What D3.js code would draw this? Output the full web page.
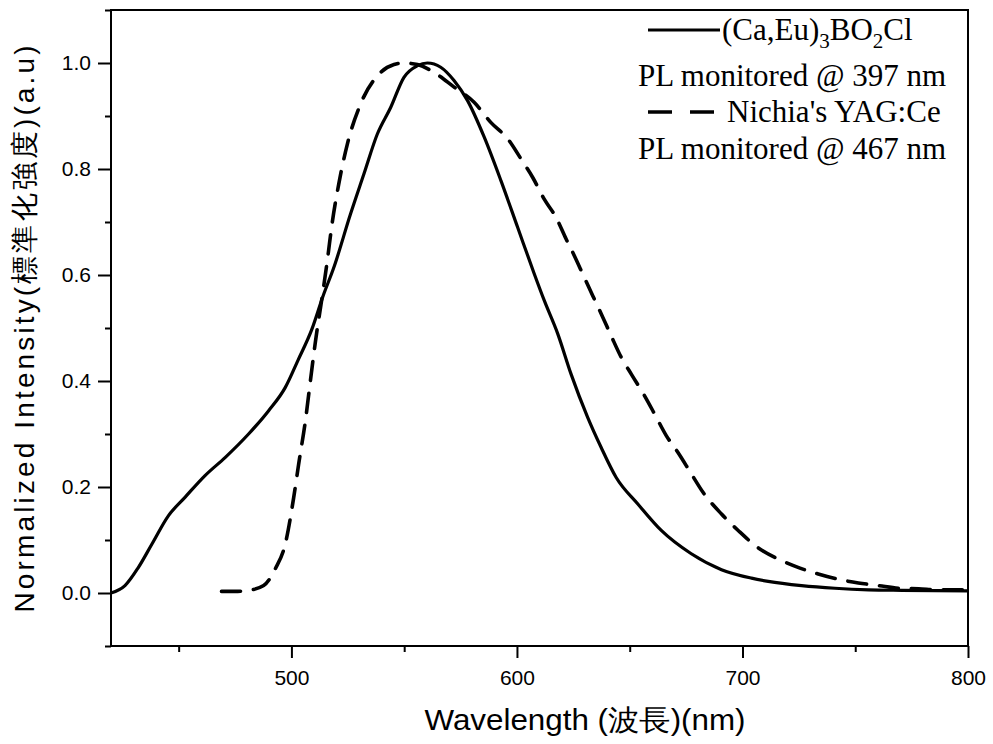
<!DOCTYPE html>
<html><head><meta charset="utf-8">
<script src="https://cdn.jsdelivr.net/npm/d3@7"></script>
<style>body{margin:0;background:#fff}</style>
</head><body>
<script>
// Data
const caEuWavelength = [420,426.2,432.1,438.1,445.5,452.9,461.8,470.7,481,489.9,497.3,503,509,514,518.8,526.2,532.1,538.1,544,549.9,555.9,560.3,566.2,572.1,578.1,585.5,592.9,600.3,607.7,612.1,618.1,624,631.4,637.3,644,653.6,664,677.3,690.7,704,711.4,726.2,741,755.9,770.7,800];
const caEuIntensity  = [0,0.014,0.048,0.092,0.146,0.181,0.222,0.256,0.300,0.344,0.388,0.44,0.497,0.56,0.614,0.715,0.79,0.866,0.916,0.973,0.995,1.0,0.992,0.967,0.929,0.86,0.778,0.69,0.602,0.552,0.489,0.413,0.331,0.275,0.218,0.168,0.118,0.074,0.044,0.028,0.022,0.014,0.009,0.006,0.005,0.004];
const yagWavelength = [469,475,481,487.7,492.9,497.3,501,503.2,506.2,508.4,510.7,513.6,515.9,518.1,521,524.8,530.7,538.8,545.5,550,555.9,563.3,572,581,588.4,595.9,601.8,607,612.1,617.3,621.8,625.5,629.9,633.6,638.1,641.8,646.2,650.7,656.6,661,666.2,671.4,677.3,682.5,690.7,698.1,707.7,715.9,725.5,733.6,742.5,751.4,760.3,769.2,778.1,787,800];
const yagIntensity  = [0.003,0.003,0.005,0.014,0.046,0.093,0.18,0.243,0.325,0.40,0.476,0.558,0.627,0.699,0.772,0.847,0.923,0.979,0.997,1.0,0.997,0.982,0.955,0.926,0.888,0.857,0.819,0.784,0.743,0.709,0.668,0.636,0.595,0.561,0.52,0.485,0.445,0.413,0.372,0.338,0.297,0.265,0.225,0.19,0.149,0.118,0.083,0.064,0.047,0.036,0.026,0.019,0.014,0.009,0.008,0.006,0.006];
const xMajorTicks = [500,600,700,800];
const xMinorTicks = [450,550,650,750];
const yMajorTicks = [0.0,0.2,0.4,0.6,0.8,1.0];
const yMinorTicks = [-0.1,0.1,0.3,0.5,0.7,0.9,1.1];
const xLabel = "Wavelength (波長)(nm)";
const yLabel = "Normalized Intensity(標準化強度)(a.u)";

const W = 993, H = 744;
const L = 111, R = 968, T = 10, B = 646;
const svg = d3.select("body").append("svg").attr("width", W).attr("height", H);
const x = d3.scaleLinear().domain([420, 800]).range([L, R]);
const y = d3.scaleLinear().domain([-0.1, 1.1]).range([B, T]);

// frame
svg.append("rect").attr("x", L).attr("y", T).attr("width", R - L).attr("height", B - T)
  .attr("fill", "none").attr("stroke", "#000").attr("stroke-width", 2);

// axes
const tickFont = "Liberation Sans, Arial, sans-serif";
const xAx = svg.append("g").attr("transform", `translate(0,${B})`)
  .call(d3.axisBottom(x).tickValues(xMajorTicks).tickSize(12).tickPadding(12).tickFormat(d3.format("d")));
const xMin = svg.append("g").attr("transform", `translate(0,${B})`)
  .call(d3.axisBottom(x).tickValues(xMinorTicks).tickSize(6).tickFormat(""));
const yAx = svg.append("g").attr("transform", `translate(${L},0)`)
  .call(d3.axisLeft(y).tickValues(yMajorTicks).tickSize(13).tickPadding(7).tickFormat(d3.format(".1f")));
const yMin = svg.append("g").attr("transform", `translate(${L},0)`)
  .call(d3.axisLeft(y).tickValues(yMinorTicks).tickSize(6).tickFormat(""));
[xAx, xMin, yAx, yMin].forEach(g => {
  g.select(".domain").remove();
  g.selectAll("line").attr("stroke", "#000").attr("stroke-width", 2);
  g.selectAll("text").attr("font-family", tickFont).attr("font-size", 21).attr("fill", "#000");
});

// curves
const line = d3.line().x(d => x(d[0])).y(d => y(d[1])).curve(d3.curveMonotoneX);
svg.append("path").datum(d3.zip(caEuWavelength, caEuIntensity)).attr("d", line)
  .attr("fill", "none").attr("stroke", "#000").attr("stroke-width", 3.2).attr("stroke-linejoin", "round");
svg.append("path").datum(d3.zip(yagWavelength, yagIntensity)).attr("d", line)
  .attr("fill", "none").attr("stroke", "#000").attr("stroke-width", 3.6)
  .attr("stroke-dasharray", "19 13").attr("stroke-linecap", "round");

// axis labels
svg.append("text").attr("x", 585).attr("y", 730).attr("text-anchor", "middle")
  .attr("font-family", tickFont).attr("font-size", 29)
  .attr("textLength", 321).attr("lengthAdjust", "spacingAndGlyphs").text(xLabel);
svg.append("text").attr("transform", "translate(34,329) rotate(-90)").attr("text-anchor", "middle")
  .attr("font-family", tickFont).attr("font-size", 28)
  .attr("textLength", 567).attr("lengthAdjust", "spacing").text(yLabel);

// legend
const serif = "Liberation Serif, Times New Roman, serif";
const lg = svg.append("g").attr("font-family", serif).attr("font-size", 31).attr("fill", "#000");
lg.append("line").attr("x1", 648).attr("x2", 720).attr("y1", 30).attr("y2", 30).attr("stroke", "#000").attr("stroke-width", 3);
const t1 = lg.append("text").attr("x", 722).attr("y", 40);
t1.append("tspan").text("(Ca,Eu)");
t1.append("tspan").attr("dy", 8).attr("font-size", 21).text("3");
t1.append("tspan").attr("dy", -8).text("BO");
t1.append("tspan").attr("dy", 8).attr("font-size", 21).text("2");
t1.append("tspan").attr("dy", -8).text("Cl");
lg.append("text").attr("x", 638).attr("y", 86).text("PL monitored @ 397 nm");
lg.append("line").attr("x1", 648).attr("x2", 714).attr("y1", 112).attr("y2", 112).attr("stroke", "#000").attr("stroke-width", 3.6)
  .attr("stroke-dasharray", "24 18");
lg.append("text").attr("x", 727).attr("y", 122).text("Nichia's YAG:Ce");
lg.append("text").attr("x", 638).attr("y", 159).text("PL monitored @ 467 nm");
</script>
</body></html>
